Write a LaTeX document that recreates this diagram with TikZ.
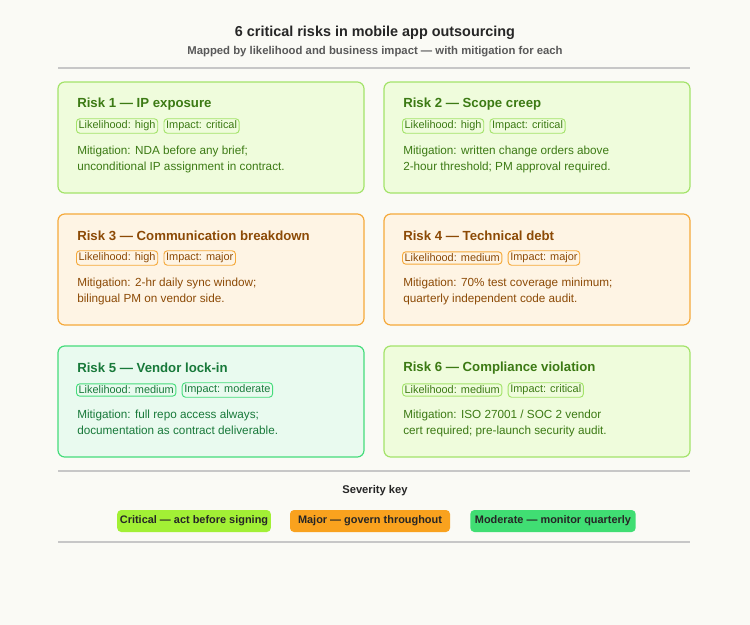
\documentclass[tikz,border=0pt]{standalone}
\usepackage{fontspec}
\setmainfont{Liberation Sans}
\begin{document}
\begin{tikzpicture}[x=0.75pt,y=-0.75pt,
  card/.style={draw=#1,line width=0.9pt,rounded corners=5pt},
  ttl/.style={anchor=west,font=\fontsize{9.9}{11}\selectfont\bfseries,inner sep=0pt},
  tag/.style={draw=#1,line width=0.7pt,rounded corners=2.5pt,inner sep=1.6pt,anchor=west,font=\fontsize{8.2}{9}\selectfont},
  mit/.style={anchor=north west,align=left,inner sep=0pt,font=\fontsize{8.8}{12}\selectfont},
  pill/.style={fill=#1,rounded corners=3pt,minimum height=16.5pt,inner xsep=2pt,font=\fontsize{8.2}{9}\selectfont\bfseries,text=black!85},
  rule/.style={draw=black!22,line width=1.3pt}]
\definecolor{bg}{HTML}{FAFAF5}
\definecolor{cF}{HTML}{EFFCDC}\definecolor{cB}{HTML}{A3E36A}\definecolor{cT}{HTML}{3C7A14}
\definecolor{mF}{HTML}{FEF4E4}\definecolor{mB}{HTML}{F5A93A}\definecolor{mT}{HTML}{8C4A06}
\definecolor{oF}{HTML}{E9FAEF}\definecolor{oB}{HTML}{45DC7B}\definecolor{oT}{HTML}{18793A}
\definecolor{pC}{HTML}{A2F035}\definecolor{pM}{HTML}{F9A21E}\definecolor{pO}{HTML}{40DE73}
\fill[bg] (0,0) rectangle (750,625);
\useasboundingbox (0,0) rectangle (750,625);
\node[font=\fontsize{10.8}{12}\selectfont\bfseries,text=black!85] (title) at (375,33) {6 critical risks in mobile app outsourcing};
\node[font=\fontsize{8.5}{10}\selectfont\bfseries,text=black!65] (sub) at (375,52) {Mapped by likelihood and business impact — with mitigation for each};
\draw[rule] (58,68) -- (690,68);
\draw[rule] (58,471) -- (690,471);
\draw[rule] (58,542) -- (690,542);
% cards
\newcommand{\riskcard}[9]{%
 \draw[card=#2B,fill=#2F] (#3,#4) rectangle ++(306,111);
 \node[ttl,text=#2T] (t#1) at (#3+19,#4+22) {#5};
 \node[tag=#2B,text=#2T] (l#1) at (#3+18,#4+44) {#6};
 \node[tag=#2B,text=#2T] (i#1) at ([xshift=4pt]l#1.east) {#7};
 \node[mit,text=#2T] (m#1) at (#3+19,#4+64) {#8\\#9};}
\riskcard{1}{c}{58}{82}{Risk 1 — IP exposure}{Likelihood: high}{Impact: critical}{Mitigation: NDA before any brief;}{unconditional IP assignment in contract.}
\riskcard{2}{c}{384}{82}{Risk 2 — Scope creep}{Likelihood: high}{Impact: critical}{Mitigation: written change orders above}{2-hour threshold; PM approval required.}
\riskcard{3}{m}{58}{214}{Risk 3 — Communication breakdown}{Likelihood: high}{Impact: major}{Mitigation: 2-hr daily sync window;}{bilingual PM on vendor side.}
\riskcard{4}{m}{384}{214}{Risk 4 — Technical debt}{Likelihood: medium}{Impact: major}{Mitigation: 70\% test coverage minimum;}{quarterly independent code audit.}
\riskcard{5}{o}{58}{346}{Risk 5 — Vendor lock-in}{Likelihood: medium}{Impact: moderate}{Mitigation: full repo access always;}{documentation as contract deliverable.}
\riskcard{6}{c}{384}{346}{Risk 6 — Compliance violation}{Likelihood: medium}{Impact: critical}{Mitigation: ISO 27001 / SOC 2 vendor}{cert required; pre-launch security audit.}
\node[font=\fontsize{8.4}{10}\selectfont\bfseries,text=black!85] (key) at (375,491) {Severity key};
\node[pill=pC,minimum width=112.5pt] (k1) at (194,521) {Critical — act before signing};
\node[pill=pM,minimum width=120pt] (k2) at (370,521) {Major — govern throughout};
\node[pill=pO,minimum width=124pt] (k3) at (553,521) {Moderate — monitor quarterly};
\end{tikzpicture}
\end{document}
